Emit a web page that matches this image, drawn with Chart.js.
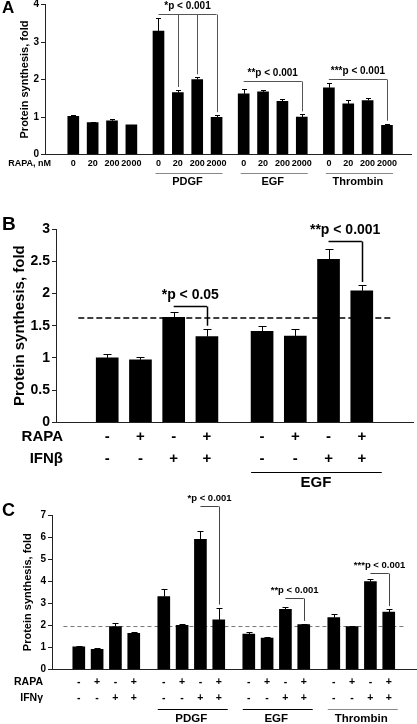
<!DOCTYPE html>
<html>
<head>
<meta charset="utf-8">
<script src="https://cdn.jsdelivr.net/npm/chart.js@4.4.0/dist/chart.umd.min.js"></script>
<style>
body { margin: 0; background: #fff; font-family: "Liberation Sans", Arial, sans-serif; }
#fig { position: relative; width: 417px; height: 724px; overflow: hidden; }
canvas { position: absolute; left: 0; }
.letter { position: absolute; left: 2px; font-weight: bold; z-index: 2; }
</style>
</head>
<body>
<div id="fig">
  <canvas id="chartA" width="417" height="190" style="top:0"></canvas>
  <canvas id="chartB" width="417" height="300" style="top:190px"></canvas>
  <canvas id="chartC" width="417" height="234" style="top:490px"></canvas>
  <div class="letter" style="top:-1px;font-size:17px;line-height:17px">A</div>
  <div class="letter" style="top:214px;font-size:19px;line-height:19px">B</div>
  <div class="letter" style="top:501px;font-size:18px;line-height:18px">C</div>
</div>
<script>
// ---- panel A: rapamycin dose, 4 conditions ----
var aDoses = ['0', '20', '200', '2000'];
var aGroups = ['', 'PDGF', 'EGF', 'Thrombin'];
var aMeans = [1.02, 0.85, 0.90, 0.79, 3.29, 1.65, 2.00, 0.99, 1.62, 1.67, 1.42, 1.00, 1.78, 1.35, 1.44, 0.78];
var aErrors = [0.04, 0.01, 0.04, 0.01, 0.36, 0.07, 0.06, 0.06, 0.12, 0.05, 0.06, 0.07, 0.12, 0.10, 0.07, 0.04];
var aTicks = [0, 1, 2, 3, 4];
var aBrackets = [
    {from: 4, to: [5, 6, 7], level: 3.75, label: '*p < 0.001'},
    {from: 8, to: [11], level: 1.96, label: '**p < 0.001'},
    {from: 12, to: [15], level: 2.01, label: '***p < 0.001'}
];

// ---- panel B: RAPA / IFN-beta, +/- EGF ----
var bRapa = ['-', '+', '-', '+', '-', '+', '-', '+'];
var bIfn = ['-', '-', '+', '+', '-', '-', '+', '+'];
var bGroups = ['', 'EGF'];
var bMeans = [1.00, 0.97, 1.63, 1.33, 1.41, 1.34, 2.53, 2.04];
var bErrors = [0.06, 0.04, 0.08, 0.12, 0.08, 0.11, 0.16, 0.09];
var bBaseline = 1.62;
var bTicks = [0, 0.5, 1, 1.5, 2, 2.5, 3];
var bBrackets = [
    {from: 2, to: [3], level: 1.81, label: '*p < 0.05'},
    {from: 6, to: [7], level: 2.82, label: '**p < 0.001'}
];

// ---- panel C: RAPA / IFN-gamma, 4 conditions ----
var cRapa = ['-', '+', '-', '+'];
var cIfn = ['-', '-', '+', '+'];
var cGroups = ['', 'PDGF', 'EGF', 'Thrombin'];
var cMeans = [1.02, 0.91, 1.94, 1.63, 3.30, 2.00, 5.90, 2.24, 1.60, 1.42, 2.72, 2.03, 2.35, 1.94, 3.98, 2.60];
var cErrors = [0.04, 0.04, 0.14, 0.08, 0.35, 0.06, 0.38, 0.56, 0.11, 0.05, 0.12, 0.03, 0.18, 0.04, 0.10, 0.13];
var cBaseline = 1.94;
var cTicks = [0, 1, 2, 3, 4, 5, 6, 7];
var cBrackets = [
    {from: 6, to: [7], level: 7.42, label: '*p < 0.001'},
    {from: 10, to: [11], level: 3.24, label: '**p < 0.001'},
    {from: 14, to: [15], level: 4.38, label: '***p < 0.001'}
];

var FONT = '"Liberation Sans", Arial, sans-serif';

// bar slot along the x scale: groups of bars with a wider gap between groups
function slot(i, perGroup, stride) {
    return Math.floor(i / perGroup) * stride + (i % perGroup);
}

function font(size) {
    return 'bold ' + size + 'px ' + FONT;
}

function makePanel(id, p) {
    var xs = p.means.map(function (v, i) { return slot(i, p.perGroup, p.stride); });
    var xMin = xs[0] - p.padL;
    var xMax = xs[xs.length - 1] + p.padR;

    var datasets = [{
        type: 'bar',
        data: p.means.map(function (v, i) { return {x: xs[i], y: v}; }),
        backgroundColor: '#000',
        barThickness: p.barW,
        order: 1
    }];
    if (p.baseline != null) {
        datasets.push({
            type: 'line',
            data: [{x: xMin, y: p.baseline}, {x: xMax, y: p.baseline}],
            borderColor: p.dashColor,
            borderWidth: p.dashW,
            borderDash: p.dash,
            pointRadius: 0,
            order: 2
        });
    }

    var extras = {
        id: 'extras',
        afterDatasetsDraw: function (chart) {
            var ctx = chart.ctx;
            var xs_ = chart.scales.x, ys_ = chart.scales.y;
            var area = chart.chartArea;
            var lh = p.tickSize * p.tickLH;
            ctx.save();

            // error bars (upper half only)
            ctx.strokeStyle = '#000';
            ctx.lineWidth = 1;
            p.means.forEach(function (m, i) {
                var x = Math.round(xs_.getPixelForValue(xs[i])) + 0.5;
                var y0 = ys_.getPixelForValue(m);
                var y1 = Math.round(ys_.getPixelForValue(m + p.errors[i])) + 0.5;
                ctx.beginPath();
                ctx.moveTo(x, y0);
                ctx.lineTo(x, y1);
                ctx.moveTo(x - p.cap, y1);
                ctx.lineTo(x + p.cap, y1);
                ctx.stroke();
            });

            // significance brackets
            ctx.strokeStyle = p.bracketColor;
            ctx.lineWidth = p.bracketW;
            ctx.fillStyle = '#000';
            ctx.font = font(p.sigSize);
            ctx.textAlign = 'center';
            ctx.textBaseline = 'middle';
            p.brackets.forEach(function (b) {
                var last = b.to[b.to.length - 1];
                var x1 = xs_.getPixelForValue(xs[b.from]);
                var x2 = xs_.getPixelForValue(xs[last]);
                var yl = Math.round(ys_.getPixelForValue(b.level)) + 0.5;
                ctx.beginPath();
                ctx.moveTo(x1, yl);
                ctx.lineTo(x2, yl);
                b.to.forEach(function (t) {
                    var xt = Math.round(xs_.getPixelForValue(xs[t])) + 0.5;
                    ctx.moveTo(xt, yl);
                    ctx.lineTo(xt, ys_.getPixelForValue(p.means[t] + p.errors[t]) - 3);
                });
                ctx.stroke();
                ctx.fillText(b.label, (x1 + x2) / 2, yl - p.sigOff);
            });

            // row titles to the left of the tick labels
            ctx.font = font(p.tickSize);
            ctx.textAlign = 'right';
            p.rowTitles.forEach(function (t, i) {
                ctx.fillText(t, p.rowX, area.bottom + p.tickPad + lh * (i + 0.5));
            });

            // group underlines and names
            ctx.font = font(p.groupSize);
            ctx.textAlign = 'center';
            p.groups.forEach(function (g, gi) {
                if (!g) return;
                var first = xs[gi * p.perGroup], last = xs[gi * p.perGroup + p.perGroup - 1];
                var gx1 = xs_.getPixelForValue(first) - p.lineExt[0];
                var gx2 = xs_.getPixelForValue(last) + p.lineExt[1];
                var gy = Math.round(area.bottom + p.groupLineY) + 0.5;
                ctx.strokeStyle = p.groupColors[gi];
                ctx.lineWidth = 1;
                ctx.beginPath();
                ctx.moveTo(gx1, gy);
                ctx.lineTo(gx2, gy);
                ctx.stroke();
                ctx.fillText(g, (xs_.getPixelForValue(first) + xs_.getPixelForValue(last)) / 2 + p.groupShift,
                    area.bottom + p.groupTextY);
            });
            ctx.restore();
        }
    };

    return new Chart(document.getElementById(id), {
        type: 'bar',
        data: {datasets: datasets},
        plugins: [extras],
        options: {
            responsive: false,
            animation: false,
            events: [],
            layout: {padding: {top: p.top, right: p.right, left: 0, bottom: 0}},
            plugins: {legend: {display: false}, tooltip: {enabled: false}},
            scales: {
                x: {
                    type: 'linear',
                    min: xMin,
                    max: xMax,
                    grid: {display: false, drawTicks: false},
                    border: {display: true, color: '#222', width: 1},
                    afterBuildTicks: function (s) {
                        s.ticks = xs.map(function (v) { return {value: v}; });
                    },
                    afterFit: function (s) {
                        s.height = p.xAxisH;
                        s.paddingLeft = 0;
                        s.paddingRight = 0;
                    },
                    ticks: {
                        autoSkip: false,
                        maxRotation: 0,
                        minRotation: 0,
                        padding: p.tickPad,
                        color: '#000',
                        font: {family: FONT, size: p.tickSize, weight: 'bold', lineHeight: p.tickLH},
                        callback: function (v, i) { return p.tickLabel(i); }
                    }
                },
                y: {
                    min: 0,
                    max: p.yTicks[p.yTicks.length - 1],
                    afterBuildTicks: function (s) {
                        s.ticks = p.yTicks.map(function (v) { return {value: v}; });
                    },
                    afterFit: function (s) {
                        s.width = p.axisX;
                        s.paddingTop = 0;
                        s.paddingBottom = 0;
                    },
                    grid: {display: true, drawOnChartArea: false, drawTicks: true, tickLength: 4, color: '#222'},
                    border: {display: true, color: '#222', width: 1},
                    ticks: {
                        padding: 2,
                        color: '#000',
                        font: {family: FONT, size: p.yTickSize, weight: 'bold'},
                        callback: function (v) { return String(v); }
                    },
                    title: {
                        display: true,
                        text: 'Protein synthesis, fold',
                        color: '#000',
                        font: {family: FONT, size: p.titleSize, weight: 'bold', lineHeight: 1.2},
                        padding: {top: p.titlePad, bottom: 0}
                    }
                }
            }
        }
    });
}

makePanel('chartA', {
    means: aMeans, errors: aErrors, perGroup: 4, stride: 4.4, padL: 0.87, padR: 0.65,
    barW: 11, cap: 2.5, yTicks: aTicks, baseline: null,
    top: 4.5, right: 6, axisX: 45, xAxisH: 35.5,
    tickSize: 9, tickLH: 1.2, tickPad: 4, yTickSize: 10,
    tickLabel: function (i) { return aDoses[i % 4]; },
    titleSize: 11, titlePad: 18,
    brackets: aBrackets, bracketColor: '#555', bracketW: 1, sigSize: 10, sigOff: 8.5,
    rowTitles: ['RAPA, nM'], rowX: 51,
    groups: aGroups, groupColors: ['#888', '#888', '#888', '#888'], lineExt: [3, 6],
    groupLineY: 18.2, groupTextY: 27.5, groupSize: 11, groupShift: 0
});

makePanel('chartB', {
    means: bMeans, errors: bErrors, perGroup: 4, stride: 4.66, padL: 0.87, padR: 0.87,
    barW: 22, cap: 4, yTicks: bTicks, baseline: bBaseline,
    dashColor: '#000', dashW: 1.5, dash: [6, 3],
    top: 39, right: 4, axisX: 56, xAxisH: 67.7,
    tickSize: 15, tickLH: 1.467, tickPad: 4, yTickSize: 14,
    tickLabel: function (i) { return [bRapa[i], bIfn[i]]; },
    titleSize: 15, titlePad: 11,
    brackets: bBrackets, bracketColor: '#000', bracketW: 1.5, sigSize: 14, sigOff: 11.5,
    rowTitles: ['RAPA', 'IFNβ'], rowX: 63,
    groups: bGroups, groupColors: ['#000', '#000'], lineExt: [11, 20],
    groupLineY: 50, groupTextY: 61, groupSize: 15, groupShift: 4
});

makePanel('chartC', {
    means: cMeans, errors: cErrors, perGroup: 4, stride: 4.64, padL: 0.84, padR: 0.92,
    barW: 12, cap: 3, yTicks: cTicks, baseline: cBaseline,
    dashColor: '#777', dashW: 1, dash: [4, 3],
    top: 25, right: 0, axisX: 52, xAxisH: 54.7,
    tickSize: 10.5, tickLH: 1.52, tickPad: 5, yTickSize: 10,
    tickLabel: function (i) { return [cRapa[i % 4], cIfn[i % 4]]; },
    titleSize: 11, titlePad: 21,
    brackets: cBrackets, bracketColor: '#444', bracketW: 1, sigSize: 9.5, sigOff: 8,
    rowTitles: ['RAPA', 'IFNγ'], rowX: 43,
    groups: cGroups, groupColors: ['#000', '#000', '#000', '#888'], lineExt: [6, 9],
    groupLineY: 39.7, groupTextY: 49.7, groupSize: 11.5, groupShift: 0
});
</script>
</body>
</html>
